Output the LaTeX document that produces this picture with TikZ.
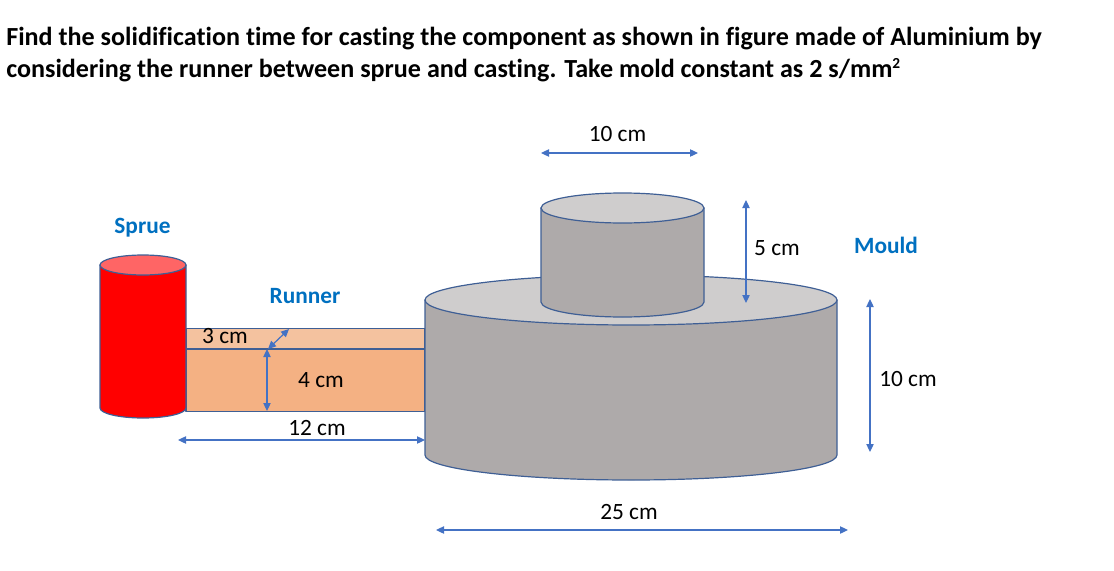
\documentclass[tikz,border=0pt]{standalone}
\usepackage{fontspec}
\setmainfont[Ligatures=NoCommon]{Carlito}
\usetikzlibrary{arrows.meta}
\definecolor{edgeblue}{HTML}{3F5F95}
\definecolor{dimblue}{HTML}{4472C4}
\definecolor{labelblue}{HTML}{0070C0}
\definecolor{bodygrey}{HTML}{AEAAAA}
\definecolor{topgrey}{HTML}{CFCDCD}
\definecolor{runnerA}{HTML}{F4C29F}
\definecolor{runnerB}{HTML}{F4B183}
\definecolor{sprueside}{HTML}{FF0000}
\definecolor{spruetop}{HTML}{FF6565}
\tikzset{
  outline/.style={draw=edgeblue,line width=0.9pt,line join=round},
  dimline/.style={draw=dimblue,line width=0.9pt,{Triangle[width=5.5pt,length=6pt]}-{Triangle[width=5.5pt,length=6pt]}},
  dimtext/.style={inner sep=0pt,font=\fontsize{17.5}{20}\selectfont,text=black},
  parttext/.style={inner sep=0pt,font=\fontsize{17.5}{20}\selectfont\bfseries,text=labelblue},
  titletext/.style={inner sep=0pt,anchor=base west,font=\fontsize{19.58}{24}\selectfont\bfseries,text=black}
}
\newcommand{\cyl}[7]{% x1,x2,ytop,ybot,ry,side,top
  \path[outline,fill=#6] (#1,#3) -- (#1,#4) arc[start angle=180,end angle=0,x radius={(#2-#1)/2},y radius=#5] -- (#2,#3) -- cycle;
  \path[outline,fill=#7] (#1,#3) arc[start angle=180,end angle=-180,x radius={(#2-#1)/2},y radius=#5] -- cycle;
}
\begin{document}
\begin{tikzpicture}[x=0.75pt,y=-0.75pt]
\useasboundingbox (0,0) rectangle (1114,571);
\node[titletext] (t1) at (6,45) {Find the solidification time for casting the component as shown in figure made of Aluminium by};
\node[titletext] (t2) at (6,77) {considering the runner between sprue and casting. Take mold constant as 2 s/mm\raisebox{6.5pt}{\fontsize{11.5}{12}\selectfont 2}};
% runner
\path[outline,fill=runnerA] (186,328.5) rectangle (425,349);
\path[outline,fill=runnerB] (186,349) rectangle (425,411.5);
% sprue
\cyl{100}{186}{265}{408}{10}{sprueside}{spruetop}
% casting
\cyl{425}{837}{300}{455}{25}{bodygrey}{topgrey}
\cyl{541}{704}{208}{302}{15}{bodygrey}{topgrey}
% labels
\node[parttext,anchor=base] (sprue) at (142.5,233) {Sprue};
\node[parttext,anchor=base] (runner) at (305,303) {Runner};
\node[parttext,anchor=base] (mould) at (886,253) {Mould};
\node[dimtext,anchor=base] (d3) at (225,343) {3 cm};
\node[dimtext,anchor=base] (d4) at (321,387) {4 cm};
\node[dimtext,anchor=base] (d12) at (317,435) {12 cm};
\node[dimtext,anchor=base] (d10a) at (617.5,141) {10 cm};
\node[dimtext,anchor=base] (d5) at (777,255) {5 cm};
\node[dimtext,anchor=base] (d10b) at (908,386) {10 cm};
\node[dimtext,anchor=base] (d25) at (629,519) {25 cm};
% dimension end points
\coordinate (a1) at (541,153); \coordinate (a2) at (698,153);
\coordinate (b1) at (746,200); \coordinate (b2) at (746,303);
\coordinate (c1) at (870,299); \coordinate (c2) at (870,452);
\coordinate (e1) at (436,530); \coordinate (e2) at (848,530);
\coordinate (f1) at (178,440); \coordinate (f2) at (425,440);
\coordinate (g1) at (267,349); \coordinate (g2) at (267,411);
\coordinate (h1) at (268,349); \coordinate (h2) at (289,329);
\draw[dimline] (a1) -- (a2);
\draw[dimline] (b1) -- (b2);
\draw[dimline] (c1) -- (c2);
\draw[dimline] (e1) -- (e2);
\draw[dimline] (f1) -- (f2);
\draw[dimline] (g1) -- (g2);
\draw[dimline] (h1) -- (h2);
\end{tikzpicture}
\end{document}
